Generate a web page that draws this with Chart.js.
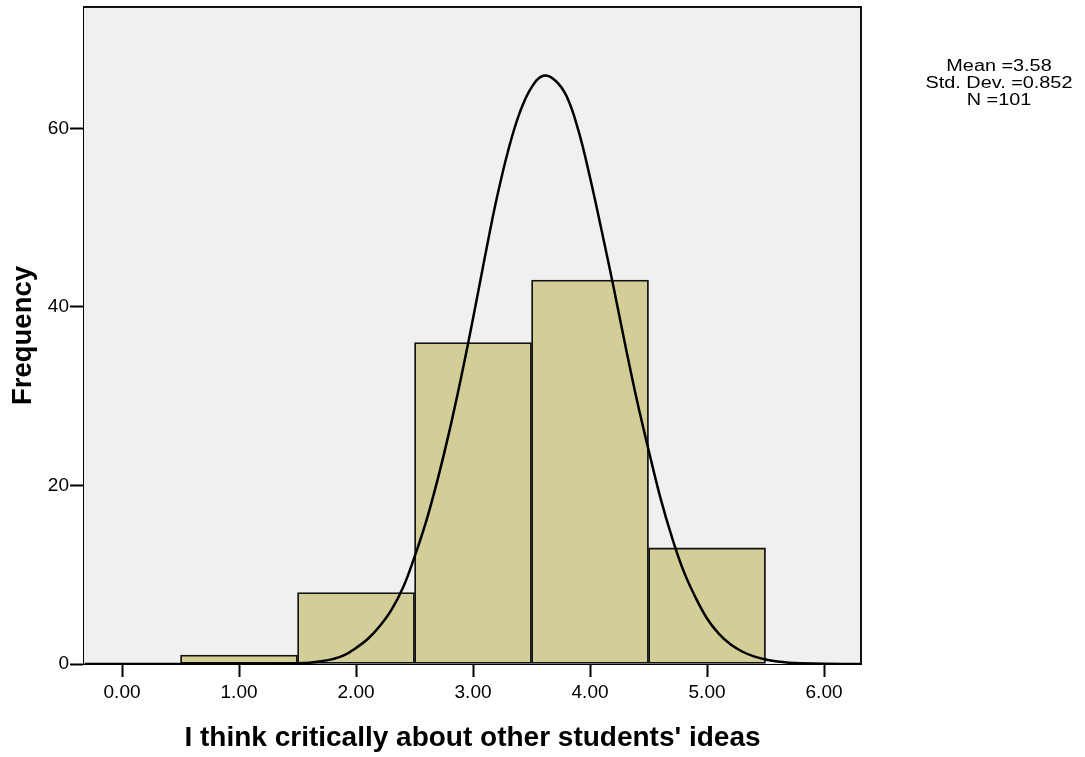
<!DOCTYPE html>
<html>
<head>
<meta charset="utf-8">
<title>Histogram</title>
<script src="https://cdn.jsdelivr.net/npm/chart.js@4.4.1/dist/chart.umd.min.js"></script>
<style>
  html, body { margin: 0; padding: 0; background: #ffffff; }
  #chart { display: block; }
</style>
</head>
<body>
<canvas id="chart" width="1085" height="757"></canvas>
<script>
// histogram bins (midpoints) and counts
const binCenters = [1, 2, 3, 4, 5];
const binCounts = [1, 8, 36, 43, 13];

// normal curve, points
const curveX = [-0.32, 0.5, 1.0, 1.3, 1.5, 1.6, 1.7, 1.8, 1.9, 2.0, 2.1, 2.2, 2.3, 2.4, 2.5,
  2.6, 2.7, 2.8, 2.9, 3.0, 3.1, 3.2, 3.3, 3.4, 3.5, 3.6, 3.7, 3.8, 3.9, 4.0,
  4.1, 4.2, 4.3, 4.4, 4.5, 4.6, 4.7, 4.8, 4.9, 5.0, 5.1, 5.2, 5.3, 5.4, 5.5,
  5.6, 5.7, 5.8, 6.0, 6.31];
const curveY = [0, 0, 0.01, 0.03, 0.08, 0.15, 0.3, 0.55, 1.0, 1.8, 2.8, 4.2, 6.0, 8.5, 12.0,
  16.0, 20.8, 26.2, 32.2, 38.7, 45.5, 52.0, 57.5, 61.8, 64.6, 65.9, 65.4, 63.6, 59.8, 54.5,
  48.5, 42.3, 35.8, 29.6, 24.0, 18.7, 14.2, 10.4, 7.5, 5.1, 3.4, 2.2, 1.4, 0.85, 0.5,
  0.28, 0.15, 0.08, 0.02, 0];

const xTicks = [0, 1, 2, 3, 4, 5, 6];
const yTicks = [0, 20, 40, 60];

const statLines = ['Mean =3.58', 'Std. Dev. =0.852', 'N =101'];

const FONT = '"Liberation Sans", Arial, sans-serif';

const plotFrame = {
  id: 'plotFrame',
  beforeDatasetsDraw(chart) {
    const { ctx, chartArea: a } = chart;
    ctx.save();
    ctx.fillStyle = '#f0f0f0';
    ctx.fillRect(a.left, a.top, a.right - a.left, a.bottom - a.top);
    ctx.restore();
  },
  afterDraw(chart) {
    const { ctx, chartArea: a } = chart;
    ctx.save();
    ctx.strokeStyle = '#111';
    ctx.lineWidth = 2;
    ctx.beginPath();
    ctx.moveTo(a.left, a.top);
    ctx.lineTo(a.right, a.top);
    ctx.lineTo(a.right, a.bottom);
    ctx.stroke();

    // stats box, text is stretched sideways like the original
    ctx.fillStyle = '#000';
    ctx.font = '16px ' + FONT;
    ctx.textAlign = 'center';
    ctx.textBaseline = 'alphabetic';
    statLines.forEach((t, i) => {
      ctx.save();
      ctx.translate(999, 71 + i * 17);
      ctx.scale(1.24, 1);
      ctx.fillText(t, 0, 0);
      ctx.restore();
    });
    ctx.restore();
  },
};

new Chart(document.getElementById('chart'), {
  type: 'bar',
  data: {
    datasets: [
      {
        type: 'line',
        data: curveX.map((x, i) => ({ x, y: curveY[i] })),
        borderColor: '#000',
        borderWidth: 2.5,
        pointRadius: 0,
        fill: false,
        tension: 0.4,
        order: 0,
      },
      {
        type: 'bar',
        data: binCenters.map((x, i) => ({ x, y: binCounts[i] })),
        backgroundColor: '#d3ce98',
        borderColor: '#111',
        borderWidth: 1.8,
        borderSkipped: false,
        barPercentage: 1,
        categoryPercentage: 1,
        order: 1,
      },
    ],
  },
  options: {
    responsive: false,
    animation: false,
    devicePixelRatio: 1,
    layout: { padding: { top: 7, right: 224, left: 0, bottom: 0 } },
    plugins: {
      legend: { display: false },
      tooltip: { enabled: false },
    },
    scales: {
      x: {
        type: 'linear',
        min: -0.325,
        max: 6.316,
        offset: false,
        afterFit(s) {
          s.height = 93;
          s.paddingLeft = 0;
          s.paddingRight = 0;
        },
        afterBuildTicks(s) { s.ticks = xTicks.map((v) => ({ value: v })); },
        grid: {
          offset: false,
          drawOnChartArea: false,
          drawTicks: true,
          tickLength: 13,
          tickWidth: 2,
          tickColor: '#000',
        },
        border: { display: true, color: '#000', width: 2 },
        ticks: {
          color: '#000',
          padding: 4,
          maxRotation: 0,
          font: { family: FONT, size: 19 },
          callback: (v) => Number(v).toFixed(2),
        },
        title: {
          display: true,
          text: "I think critically about other students' ideas",
          color: '#000',
          font: { family: FONT, size: 28, weight: 'bold', lineHeight: 1.2 },
          padding: { top: 0, bottom: 2 },
        },
      },
      y: {
        min: 0,
        max: 73.6,
        afterFit(s) {
          s.width = 84;
          s.paddingTop = 0;
          s.paddingBottom = 0;
        },
        afterBuildTicks(s) { s.ticks = yTicks.map((v) => ({ value: v })); },
        grid: {
          drawOnChartArea: false,
          drawTicks: true,
          tickLength: 14,
          tickWidth: 2,
          tickColor: '#000',
        },
        border: { display: true, color: '#000', width: 2 },
        ticks: {
          color: '#000',
          padding: 1,
          font: { family: FONT, size: 19 },
        },
        title: {
          display: true,
          text: 'Frequency',
          color: '#000',
          font: { family: FONT, size: 27.5, weight: 'bold', lineHeight: 1.2 },
          padding: { top: 7, bottom: 0 },
        },
      },
    },
  },
  plugins: [plotFrame],
});
</script>
</body>
</html>
